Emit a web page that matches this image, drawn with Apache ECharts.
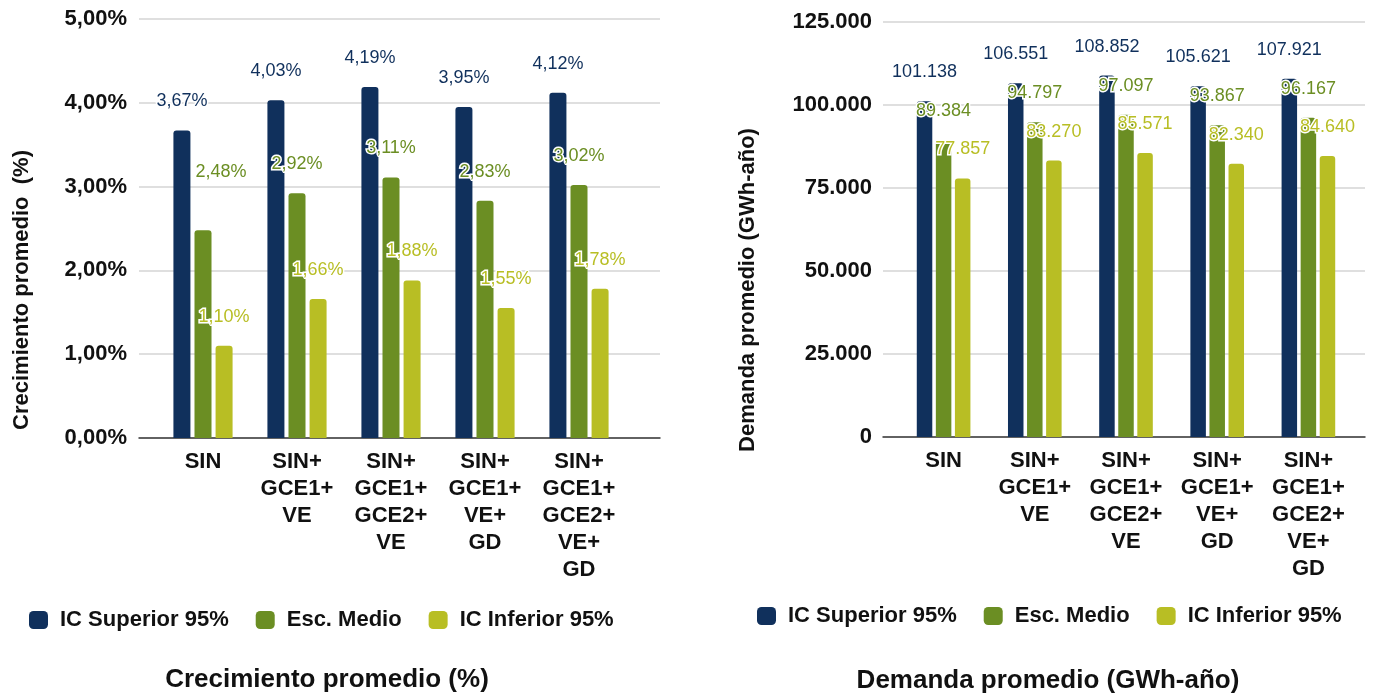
<!DOCTYPE html>
<html>
<head>
<meta charset="utf-8">
<title>Crecimiento y demanda promedio</title>
<script src="https://cdn.jsdelivr.net/npm/echarts@6/dist/echarts.min.js"></script>
<style>
  html, body { margin: 0; padding: 0; background: #ffffff; }
  #chart { width: 1373px; height: 694px; }
</style>
</head>
<body>
<div id="chart"></div>
<script>
// Scenario categories shared by both panels
const categories = [
  'SIN',
  'SIN+\nGCE1+\nVE',
  'SIN+\nGCE1+\nGCE2+\nVE',
  'SIN+\nGCE1+\nVE+\nGD',
  'SIN+\nGCE1+\nGCE2+\nVE+\nGD'
];
const seriesNames = ['IC Superior 95%', 'Esc. Medio', 'IC Inferior 95%'];

// Average growth (%)
const growthSuperior = [3.67, 4.03, 4.19, 3.95, 4.12];
const growthMedio    = [2.48, 2.92, 3.11, 2.83, 3.02];
const growthInferior = [1.10, 1.66, 1.88, 1.55, 1.78];
const growthTicks = { min: 0, max: 5, interval: 1 };

// Average demand (GWh-año)
const demandSuperior = [101138, 106551, 108852, 105621, 107921];
const demandMedio    = [89384, 94797, 97097, 93867, 96167];
const demandInferior = [77857, 83270, 85571, 82340, 84640];
const demandTicks = { min: 0, max: 125000, interval: 25000 };

const colors = ['#10305c', '#6b8e23', '#b8be24'];
const FONT = '"Liberation Sans", Arial, Helvetica, sans-serif';

const fmtPct = v => v.toFixed(2).replace('.', ',') + '%';
const fmtThousands = v => {
  const s = Math.round(v).toString();
  return s.replace(/\B(?=(\d{3})+(?!\d))/g, '.');
};

const chart = echarts.init(document.getElementById('chart'), null, { renderer: 'canvas' });

// Panel geometry: a wide "frame" grid carries the gridlines and baseline,
// an inner grid carries the bars and category labels.
const L = { top: 19, height: 419, frameLeft: 139, frameWidth: 521, barLeft: 156, barWidth: 470 };
const R = { top: 22, height: 415, frameLeft: 883, frameWidth: 482, barLeft: 898, barWidth: 456 };

function frameAxes(p, ticks, fmt, margin) {
  return {
    x: {
      gridIndex: p.gi, type: 'category', data: [''],
      axisLine: { show: true, lineStyle: { color: '#3a3a3a', width: 1.5 } },
      axisTick: { show: false }, axisLabel: { show: false }, splitLine: { show: false }
    },
    y: {
      gridIndex: p.gi, type: 'value', min: ticks.min, max: ticks.max, interval: ticks.interval,
      axisLine: { show: false }, axisTick: { show: false },
      axisLabel: { margin: margin, color: '#111', fontFamily: FONT, fontWeight: 'bold', fontSize: 22, formatter: fmt },
      splitLine: { lineStyle: { color: '#d4d4d4', width: 1.5 } }
    }
  };
}
function barAxes(gi, ticks) {
  return {
    x: {
      gridIndex: gi, type: 'category', data: categories,
      axisLine: { show: false }, axisTick: { show: false },
      axisLabel: { margin: 10, color: '#111', fontFamily: FONT, fontWeight: 'bold', fontSize: 22, lineHeight: 27, interval: 0 }
    },
    y: { gridIndex: gi, type: 'value', min: ticks.min, max: ticks.max, interval: ticks.interval, show: false }
  };
}

const lf = frameAxes({ gi: 0 }, growthTicks, v => fmtPct(v), 12);
const lb = barAxes(1, growthTicks);
const rf = frameAxes({ gi: 2 }, demandTicks, v => fmtThousands(v), 11);
const rb = barAxes(3, demandTicks);

// Per-label nudges for labels that sit away from their bar top
const labelNudges = { 'growth-1-0': [18, -29] };

function makeSeries(name, idx, values, axisIdx, fmt, barW, gapPct, key) {
  return {
    name: name, type: 'bar', xAxisIndex: axisIdx, yAxisIndex: axisIdx,
    barWidth: barW, barGap: gapPct,
    itemStyle: { color: colors[idx], borderRadius: [3, 3, 0, 0] },
    label: {
      show: true, position: 'top', distance: 20,
      color: colors[idx], fontFamily: FONT, fontSize: 18,
      textBorderColor: '#ffffff', textBorderWidth: 3,
      formatter: p => fmt(p.value)
    },
    data: values.map((v, i) => {
      const nudge = labelNudges[key + '-' + idx + '-' + i];
      return nudge ? { value: v, label: { offset: nudge } } : v;
    })
  };
}

const growthSets = [growthSuperior, growthMedio, growthInferior];
const demandSets = [demandSuperior, demandMedio, demandInferior];

const series = [];
growthSets.forEach((vals, i) => series.push(makeSeries(seriesNames[i], i, vals, 1, fmtPct, 17, '24%', 'growth')));
demandSets.forEach((vals, i) => series.push(makeSeries(seriesNames[i], i, vals, 3, fmtThousands, 15.5, '23%', 'demand')));

const legendBase = {
  orient: 'horizontal', icon: 'roundRect', itemWidth: 19, itemHeight: 18, itemGap: 27, padding: 0,
  selectedMode: false,
  textStyle: { color: '#111', fontFamily: FONT, fontWeight: 'bold', fontSize: 22, padding: [0, 0, 0, 7] },
  data: seriesNames
};

const option = {
  animation: false,
  backgroundColor: '#ffffff',
  color: colors,
  title: [
    { text: 'Crecimiento promedio (%)', left: 327, top: 667, textAlign: 'center', padding: 0,
      textStyle: { color: '#111', fontFamily: FONT, fontWeight: 'bold', fontSize: 26 } },
    { text: 'Demanda promedio (GWh-año)', left: 1048, top: 668, textAlign: 'center', padding: 0,
      textStyle: { color: '#111', fontFamily: FONT, fontWeight: 'bold', fontSize: 26 } }
  ],
  legend: [
    Object.assign({}, legendBase, { left: 29, top: 609 }),
    Object.assign({}, legendBase, { left: 757, top: 605 })
  ],
  grid: [
    { left: L.frameLeft, top: L.top, width: L.frameWidth, height: L.height },
    { left: L.barLeft, top: L.top, width: L.barWidth, height: L.height },
    { left: R.frameLeft, top: R.top, width: R.frameWidth, height: R.height },
    { left: R.barLeft, top: R.top, width: R.barWidth, height: R.height }
  ],
  xAxis: [lf.x, lb.x, rf.x, rb.x],
  yAxis: [lf.y, lb.y, rf.y, rb.y],
  graphic: [
    { type: 'text', x: 22, y: 290, rotation: Math.PI / 2,
      style: { text: 'Crecimiento promedio  (%)', fill: '#111', font: 'bold 22px ' + FONT,
               textAlign: 'center', textVerticalAlign: 'middle' } },
    { type: 'text', x: 748, y: 290, rotation: Math.PI / 2,
      style: { text: 'Demanda promedio (GWh-año)', fill: '#111', font: 'bold 22px ' + FONT,
               textAlign: 'center', textVerticalAlign: 'middle' } }
  ],
  series: series
};

chart.setOption(option);
</script>
</body>
</html>
